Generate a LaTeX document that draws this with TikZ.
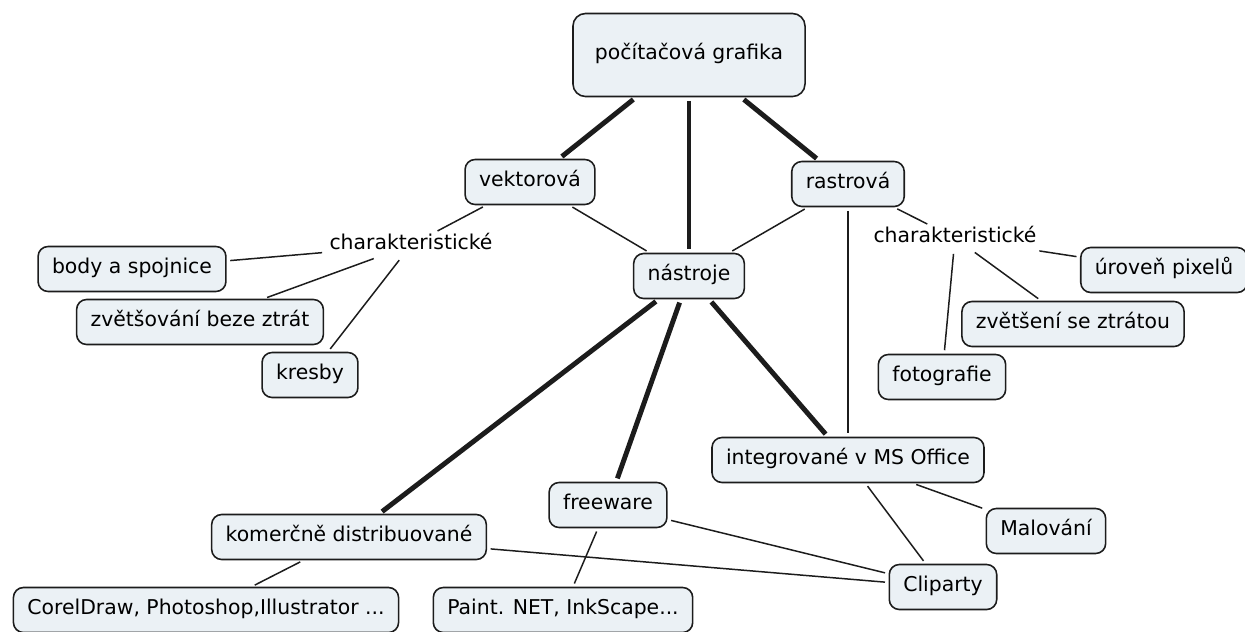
\documentclass[tikz,border=0pt]{standalone}
\usepackage{fontspec}
\setmainfont{DejaVu Sans}
\usepackage{xcolor}
\usepackage{tikz}
\usetikzlibrary{positioning}
\definecolor{pozadi}{RGB}{235,241,245}
\definecolor{obrys}{RGB}{28,28,28}
\tikzset{
    pojem/.style = {rectangle, rounded corners=0.2cm, draw=obrys, line width=0.9pt,
        fill=pozadi, inner xsep=0.28cm, minimum height=0.9cm,
        text height=0.75em, text depth=0.22em, font=\fontsize{11.6}{14}\selectfont},
    hlavni/.style = {pojem, rounded corners=0.25cm, inner xsep=0.44cm, minimum height=1.66cm},
    popis/.style = {inner sep=2pt, text height=0.75em, text depth=0.22em,
        font=\fontsize{11.6}{14}\selectfont},
    hrana/.style = {draw=obrys, line width=0.85pt, shorten <=2pt, shorten >=2pt},
    silna/.style = {line width=2.8pt}
}

\begin{document}
\begin{tikzpicture}
    \useasboundingbox (0,0) rectangle (24.9,-12.64);
    % hlavni pojmy
    \node (graf) [hlavni] at (13.78,-1.10) {počítačová grafika};
    \node (vekt) [pojem] at (10.60,-3.64) {vektorová};
    \node (rastr) [pojem] at (16.96,-3.68) {rastrová};
    \node (nastr) [pojem] at (13.78,-5.52) {nástroje};
    % vektorova
    \node (charL) [popis] at (8.22,-4.90) {charakteristické};
    \node (body) [pojem] at (2.64,-5.38) {body a spojnice};
    \node (bezez) [pojem] at (4.00,-6.44) {zvětšování beze ztrát};
    \node (kresby) [pojem] at (6.20,-7.50) {kresby};
    % rastrova
    \node (charR) [popis] at (19.10,-4.76) {charakteristické};
    \node (pixel) [pojem] at (23.28,-5.40) {úroveň pixelů};
    \node (ztrat) [pojem] at (21.46,-6.48) {zvětšení se ztrátou};
    \node (foto) [pojem] at (18.84,-7.54) {fotografie};
    % nastroje
    \node (integ) [pojem] at (16.96,-9.20) {integrované v MS Office};
    \node (malov) [pojem] at (20.92,-10.62) {Malování};
    \node (clip) [pojem] at (18.86,-11.74) {Cliparty};
    \node (komerc) [pojem] at (6.98,-10.74) {komerčně distribuované};
    \node (corel) [pojem] at (4.12,-12.20) {CorelDraw, Photoshop,Illustrator ...};
    \node (free) [pojem] at (12.16,-10.10) {freeware};
    \node (paint) [pojem] at (11.26,-12.20) {Paint. NET, InkScape...};
    % spojnice
    \path[hrana] (graf) edge[silna] (vekt) edge[silna] (nastr) edge[silna] (rastr)
        (nastr) edge[silna] (komerc) edge[silna] (free) edge[silna] (integ)
        (vekt) edge (nastr) edge (charL)
        (rastr) edge (nastr) edge (charR) edge (integ)
        (charL) edge (body) edge (bezez) edge (kresby)
        (charR) edge (pixel) edge (ztrat) edge (foto)
        (integ) edge (malov) edge (clip)
        (komerc) edge (corel) edge (clip)
        (free) edge (paint) edge (clip);
\end{tikzpicture}
\end{document}
